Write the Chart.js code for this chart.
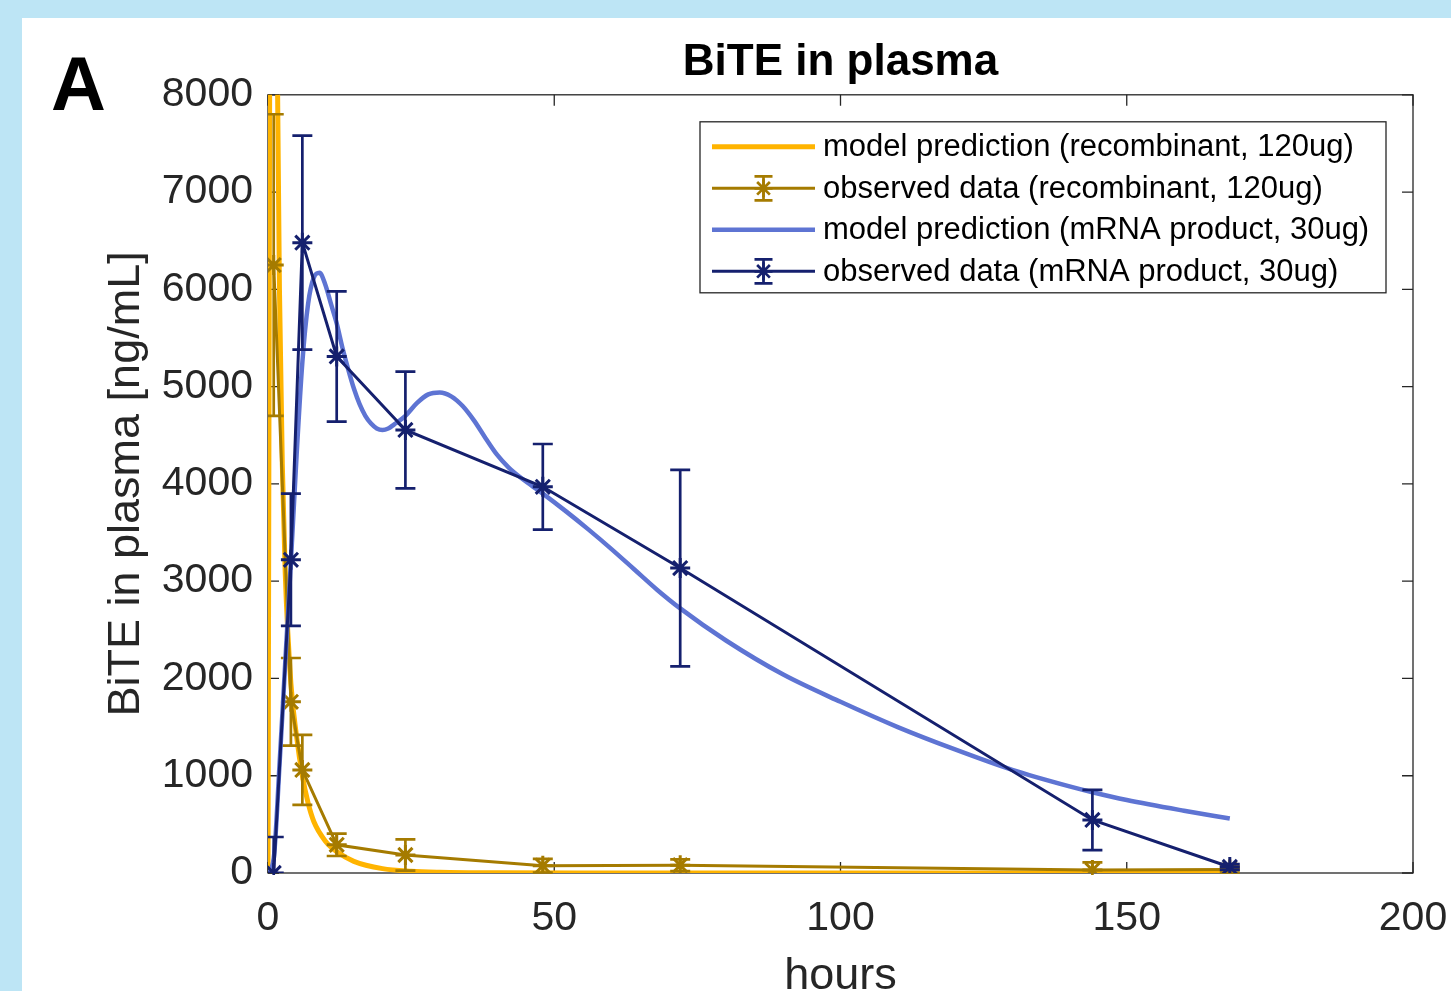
<!DOCTYPE html>
<html>
<head>
<meta charset="utf-8">
<script src="https://cdn.jsdelivr.net/npm/chart.js@4.4.1/dist/chart.umd.min.js"></script>
<style>
  html, body { margin: 0; padding: 0; overflow: hidden; background: #bde5f5; width: 1451px; height: 991px; }
  #panel { position: absolute; left: 22px; top: 18px; width: 1429px; height: 990px; background: #fff; }
  #panel canvas { display: block; }
</style>
</head>
<body>
<div id="panel"><canvas id="bite" width="1429" height="990"></canvas></div>
<script>
// observed sampling times (hours)
const obsHours = [1, 4, 6, 12, 24, 48, 72, 144, 168];

// recombinant BiTE, 120ug
const recObs = [6250, 1760, 1060, 290, 185, 75, 80, 30, 35];
const recErr = [1550, 450, 360, 115, 160, 70, 60, 80, 30];
const recModelHours = [0, 0.25, 0.5, 1, 1.5, 2, 2.5, 3, 4, 5, 6, 7, 8, 10, 12, 15, 20, 25, 30, 40, 60, 100, 168];
const recModel = [0, 7000, 13000, 12000, 9200, 6000, 4200, 3100, 1950, 1400, 1000, 720, 530, 330, 220, 120, 45, 18, 8, 2, 0, 0, 0];

// mRNA product, 30ug
const mrnaObs = [0, 3220, 6480, 5310, 4555, 3970, 3135, 545, 62];
const mrnaErr = [370, 680, 1100, 670, 600, 440, 1010, 310, 30];
const mrnaModelHours = [0, 1, 2, 3, 4, 5, 6, 7, 8, 9, 10, 11, 12, 13, 14, 15, 16, 17, 18, 19, 20, 21, 22, 24, 26, 28, 30, 32, 34, 36, 38, 40, 42, 44, 46, 48, 52, 56, 60, 64, 68, 72, 80, 90, 100, 110, 120, 130, 140, 144, 150, 160, 168];
const mrnaModel = [0, 150, 1100, 2150, 3200, 4300, 5250, 5850, 6120, 6170, 6050, 5850, 5650, 5400, 5180, 4980, 4820, 4700, 4620, 4570, 4555, 4570, 4610, 4700, 4830, 4920, 4940, 4900, 4800, 4650, 4470, 4300, 4170, 4070, 3985, 3900, 3720, 3530, 3330, 3120, 2910, 2720, 2390, 2040, 1760, 1500, 1270, 1060, 890, 830, 750, 640, 560];

// axes
const xTicks = [0, 50, 100, 150, 200];
const yTicks = [0, 1000, 2000, 3000, 4000, 5000, 6000, 7000, 8000];

const FONT = '"Liberation Sans", Arial, Helvetica, sans-serif';
const AXIS = '#262626';

const pairs = (xs, ys) => xs.map((x, i) => ({ x: x, y: ys[i] }));

function drawStar(ctx, x, y, r) {
  ctx.beginPath();
  ctx.moveTo(x - r, y); ctx.lineTo(x + r, y);
  ctx.moveTo(x, y - r); ctx.lineTo(x, y + r);
  const d = r * 0.7071;
  ctx.moveTo(x - d, y - d); ctx.lineTo(x + d, y + d);
  ctx.moveTo(x - d, y + d); ctx.lineTo(x + d, y - d);
  ctx.stroke();
}

// box + inside ticks like matlab
const frame = {
  id: 'frame',
  beforeDatasetsDraw(chart) {
    const { ctx, chartArea: a, scales } = chart;
    ctx.save();
    ctx.strokeStyle = AXIS;
    ctx.lineWidth = 1.3;
    ctx.strokeRect(a.left, a.top, a.right - a.left, a.bottom - a.top);
    ctx.beginPath();
    xTicks.forEach(v => {
      const px = scales.x.getPixelForValue(v);
      ctx.moveTo(px, a.bottom); ctx.lineTo(px, a.bottom - 11);
      ctx.moveTo(px, a.top); ctx.lineTo(px, a.top + 11);
    });
    yTicks.forEach(v => {
      const py = scales.y.getPixelForValue(v);
      ctx.moveTo(a.left, py); ctx.lineTo(a.left + 11, py);
      ctx.moveTo(a.right, py); ctx.lineTo(a.right - 11, py);
    });
    ctx.stroke();
    ctx.restore();
  }
};

// error bars, drawn right after their own dataset
const errorBars = {
  id: 'errorBars',
  afterDatasetDraw(chart, args) {
    const ds = chart.data.datasets[args.index];
    if (!ds.errors) return;
    const { ctx, chartArea: a } = chart;
    const xs = chart.scales.x, ys = chart.scales.y;
    ctx.save();
    ctx.beginPath();
    ctx.rect(a.left, a.top - 2, a.right - a.left, a.bottom - a.top + 4);
    ctx.clip();
    ctx.strokeStyle = ds.borderColor;
    ctx.lineWidth = 2.7;
    ds.data.forEach((p, i) => {
      const px = xs.getPixelForValue(p.x);
      const top = ys.getPixelForValue(p.y + ds.errors[i]);
      const bot = ys.getPixelForValue(p.y - ds.errors[i]);
      ctx.beginPath();
      ctx.moveTo(px, top); ctx.lineTo(px, bot);
      ctx.moveTo(px - 10, top); ctx.lineTo(px + 10, top);
      ctx.moveTo(px - 10, bot); ctx.lineTo(px + 10, bot);
      ctx.stroke();
    });
    ctx.restore();
  }
};

// legend box + panel letter
const overlay = {
  id: 'overlay',
  afterDraw(chart) {
    const { ctx, chartArea: a } = chart;
    ctx.save();

    ctx.fillStyle = '#000';
    ctx.font = 'bold 76px ' + FONT;
    ctx.textBaseline = 'alphabetic';
    ctx.textAlign = 'left';
    ctx.fillText('A', 29, 92);

    const w = 686, h = 171;
    const bx = a.right - 27 - w, by = a.top + 27;
    ctx.fillStyle = '#fff';
    ctx.fillRect(bx, by, w, h);
    ctx.strokeStyle = AXIS;
    ctx.lineWidth = 1.3;
    ctx.strokeRect(bx, by, w, h);

    ctx.font = '31px ' + FONT;
    ctx.textBaseline = 'middle';
    chart.data.datasets.forEach((ds, i) => {
      const cy = by + 25 + i * 41.5;
      const x0 = bx + 12, x1 = bx + 115, xm = (x0 + x1) / 2;
      ctx.strokeStyle = ds.borderColor;
      ctx.lineWidth = ds.borderWidth;
      ctx.beginPath(); ctx.moveTo(x0, cy); ctx.lineTo(x1, cy); ctx.stroke();
      if (ds.errors) {
        ctx.lineWidth = 2.7;
        ctx.beginPath();
        ctx.moveTo(xm, cy - 12); ctx.lineTo(xm, cy + 12);
        ctx.moveTo(xm - 9, cy - 12); ctx.lineTo(xm + 9, cy - 12);
        ctx.moveTo(xm - 9, cy + 12); ctx.lineTo(xm + 9, cy + 12);
        ctx.stroke();
        drawStar(ctx, xm, cy, 9);
      }
      ctx.fillStyle = '#000';
      ctx.fillText(ds.label, bx + 123, cy + 1);
    });
    ctx.restore();
  }
};

new Chart(document.getElementById('bite'), {
  type: 'line',
  data: {
    datasets: [
      {
        label: 'model prediction (recombinant, 120ug)',
        data: pairs(recModelHours, recModel),
        borderColor: '#FFB400',
        borderWidth: 5,
        pointRadius: 0,
        cubicInterpolationMode: 'monotone',
        order: 4
      },
      {
        label: 'observed data (recombinant, 120ug)',
        data: pairs(obsHours, recObs),
        errors: recErr,
        borderColor: '#A57B00',
        borderWidth: 3,
        pointStyle: 'star',
        pointRadius: 10,
        pointBorderWidth: 3,
        pointBorderColor: '#A57B00',
        tension: 0,
        order: 3
      },
      {
        label: 'model prediction (mRNA product, 30ug)',
        data: pairs(mrnaModelHours, mrnaModel),
        borderColor: '#5E74D3',
        borderWidth: 4.5,
        pointRadius: 0,
        cubicInterpolationMode: 'monotone',
        order: 2
      },
      {
        label: 'observed data (mRNA product, 30ug)',
        data: pairs(obsHours, mrnaObs),
        errors: mrnaErr,
        borderColor: '#15206E',
        borderWidth: 3,
        pointStyle: 'star',
        pointRadius: 10,
        pointBorderWidth: 3,
        pointBorderColor: '#15206E',
        tension: 0,
        order: 1
      }
    ]
  },
  options: {
    responsive: false,
    animation: false,
    layout: { padding: { left: 0, top: 0, bottom: 0, right: 38 } },
    plugins: {
      legend: { display: false },
      tooltip: { enabled: false },
      title: {
        display: true,
        text: 'BiTE in plasma',
        fullSize: false,
        color: '#000',
        font: { family: FONT, size: 44, weight: 'bold' },
        padding: { top: 18, bottom: 6 }
      }
    },
    scales: {
      x: {
        type: 'linear',
        min: 0,
        max: 200,
        afterBuildTicks: s => { s.ticks = xTicks.map(v => ({ value: v })); },
        ticks: { color: AXIS, font: { family: FONT, size: 41 }, padding: 21, maxRotation: 0, autoSkip: false, callback: v => String(v) },
        grid: { display: false, drawTicks: false },
        border: { display: false },
        title: { display: true, text: 'hours', color: AXIS, font: { family: FONT, size: 45 }, padding: { top: 0, bottom: 4 } },
        afterFit: s => { s.height = 135; s.paddingLeft = 0; s.paddingRight = 0; }
      },
      y: {
        min: 0,
        max: 8000,
        afterBuildTicks: s => { s.ticks = yTicks.map(v => ({ value: v })); },
        ticks: { color: AXIS, font: { family: FONT, size: 41 }, padding: 15, autoSkip: false, callback: v => String(v) },
        grid: { display: false, drawTicks: false },
        border: { display: false },
        title: { display: true, text: 'BiTE in plasma [ng/mL]', color: AXIS, font: { family: FONT, size: 45 }, padding: { top: 78, bottom: 0 } },
        afterFit: s => { s.width = 246; s.paddingTop = 0; s.paddingBottom = 0; }
      }
    }
  },
  plugins: [frame, errorBars, overlay]
});
</script>
</body>
</html>
